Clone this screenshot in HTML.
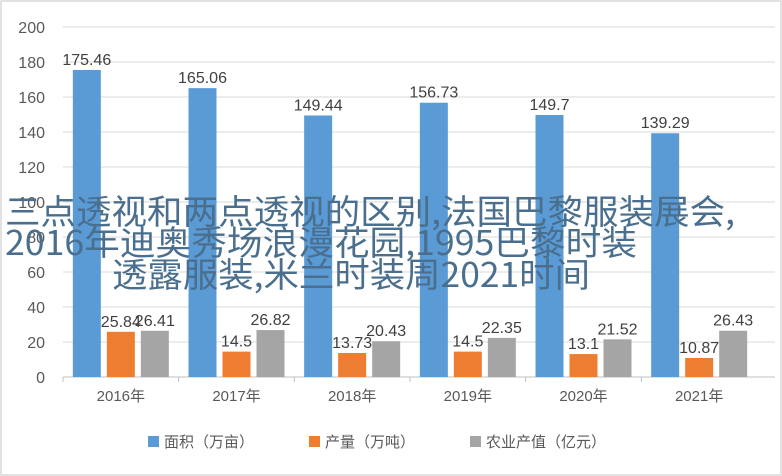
<!DOCTYPE html>
<html><head><meta charset="utf-8"><style>
html,body{margin:0;padding:0;background:#fff}
svg{display:block;font-family:"Liberation Sans","Noto Sans CJK SC",sans-serif}
</style></head><body>
<svg id="chart" width="782" height="476" viewBox="0 0 782 476" xmlns="http://www.w3.org/2000/svg">
<rect x="1" y="1" width="780" height="474" fill="#fff" stroke="#d9d9d9" stroke-width="1.5"/>
<g id="grid"></g><g id="bars"></g><g id="labels"></g>
<g font-size="15" fill="#595959">
<rect x="148" y="436" width="11" height="11" fill="#5b9bd5"/>
<text x="164" y="447">面积（万亩）</text>
<rect x="309" y="436" width="11" height="11" fill="#ed7d31"/>
<text x="325" y="447">产量（万吨）</text>
<rect x="470" y="436" width="11" height="11" fill="#a5a5a5"/>
<text x="486" y="447">农业产值（亿元）</text>
</g>
<g font-size="34" fill="#4a6f8e" style="font-family:'Noto Sans CJK SC','Liberation Sans',sans-serif">
<text x="5" y="224" textLength="730" lengthAdjust="spacingAndGlyphs">三点透视和两点透视的区别,法国巴黎服装展会,</text>
<text x="5" y="255" textLength="632" lengthAdjust="spacingAndGlyphs">2016年迪奥秀场浪漫花园,1995巴黎时装</text>
<text x="112" y="287" textLength="478" lengthAdjust="spacingAndGlyphs">透露服装,米兰时装周2021时间</text>
</g>
</svg>
<script>
const categories=["2016年","2017年","2018年","2019年","2020年","2021年"];
const areaValues=[175.46,165.06,149.44,156.73,149.7,139.29];
const outputValues=[25.84,14.5,13.73,14.5,13.1,10.87];
const valueValues=[26.41,26.82,20.43,22.35,21.52,26.43];
const yTicks=[0,20,40,60,80,100,120,140,160,180,200];
const NS="http://www.w3.org/2000/svg";
const L=63,R=757,GR=775,T=27,B=377,yMax=200;
const y=v=>B-(v/yMax)*(B-T);
const band=(R-L)/categories.length;
const xc=i=>L+band*(i+0.5);
function mk(tag,attrs,parent,txt){const e=document.createElementNS(NS,tag);for(const k in attrs)e.setAttribute(k,attrs[k]);if(txt!==undefined)e.textContent=txt;parent.appendChild(e);return e;}
const grid=document.getElementById('grid'),bars=document.getElementById('bars'),labels=document.getElementById('labels');
yTicks.forEach(t=>{
 const ln=mk('line',{x1:L,x2:GR,y1:y(t),y2:y(t),stroke:t===0?'#bfbfbf':'#d9d9d9','stroke-width':1},grid);
 
 
 const tx=mk('text',{x:45,y:y(t)+6,'text-anchor':'end','font-size':16,fill:'#595959'},grid,String(t));
 
 
});
const series=[[areaValues,'#5b9bd5','area'],[outputValues,'#ed7d31','output'],[valueValues,'#a5a5a5','value']];
const bw=28,step=34;
categories.forEach((c,i)=>{
 series.forEach(([vals,col,nm],s)=>{
  const cx=xc(i)+(s-1)*step;
  const r=mk('rect',{x:cx-bw/2,y:y(vals[i]),width:bw,height:B-y(vals[i]),fill:col},bars);
  
  
  const t=mk('text',{x:cx,y:y(vals[i])-5,'text-anchor':'middle','font-size':16,fill:'#404040'},labels,String(vals[i]));
  
  
 });
 const tk=mk('line',{x1:L+band*i,x2:L+band*i,y1:B,y2:B+5,stroke:'#bfbfbf'},grid);
 
 
 const xl=mk('text',{x:xc(i),y:401,'text-anchor':'middle','font-size':15,fill:'#595959'},labels,c);
 
 
});
</script>
</body></html>
